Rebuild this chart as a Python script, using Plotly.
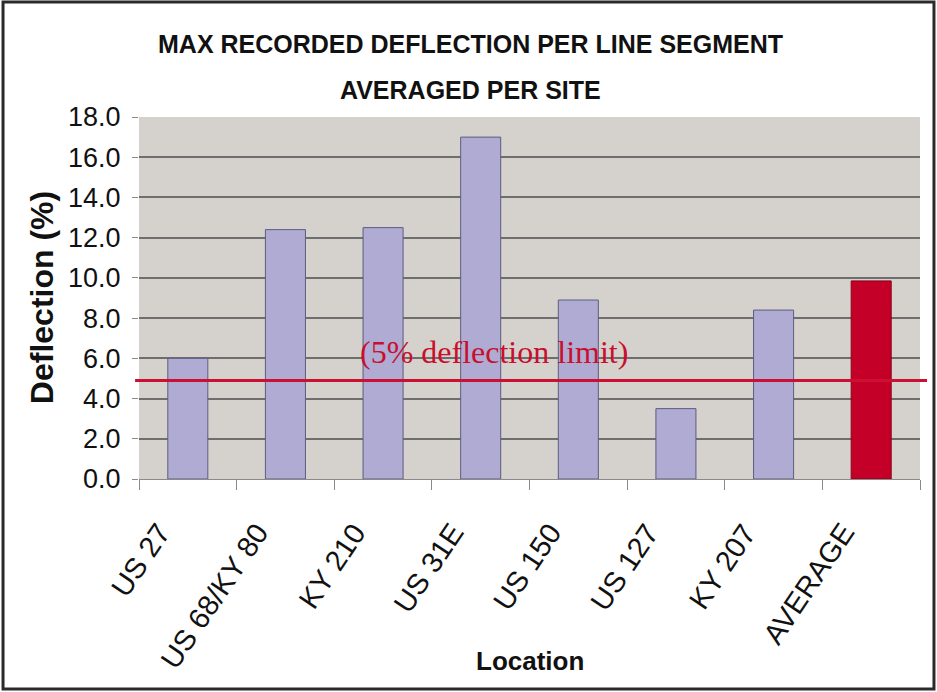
import plotly.graph_objects as go

categories = ["US 27", "US 68/KY 80", "KY 210", "US 31E", "US 150", "US 127", "KY 207", "AVERAGE"]
deflection = [6.0, 12.4, 12.5, 17.0, 8.9, 3.5, 8.4, 9.85]
limit_value = 4.9
limit_label = "(5% deflection limit)"
title_lines = ["MAX RECORDED DEFLECTION PER LINE SEGMENT", "AVERAGED PER SITE"]
y_ticks = [0, 2, 4, 6, 8, 10, 12, 14, 16, 18]

bar_colors = ["#afabd3"] * (len(categories) - 1) + ["#c40028"]
line_colors = ["#5e5c80"] * (len(categories) - 1) + ["#8a0016"]

SANS = "Liberation Sans, Arial, sans-serif"

fig = go.Figure()
fig.add_trace(go.Bar(
    x=categories, y=deflection,
    marker=dict(color=bar_colors, line=dict(color=line_colors, width=1)),
    width=0.41, showlegend=False, hoverinfo="x+y",
))

fig.update_layout(
    width=937, height=692,
    margin=dict(l=139, r=17, t=117, b=213, autoexpand=False),
    paper_bgcolor="white",
    plot_bgcolor="#d5d2cd",
    font=dict(family=SANS, color="#111111"),
    showlegend=False,
    xaxis=dict(
        type="category",
        automargin=False,
        showticklabels=False,
        ticks="outside", tickson="boundaries", ticklen=10, tickcolor="#8a8a8a", tickwidth=1,
        showgrid=False, showline=False, zeroline=False,
        range=[-0.5, len(categories) - 0.5],
    ),
    yaxis=dict(
        automargin=False,
        range=[0, 18],
        tickvals=y_ticks,
        ticktext=[f"{v:.1f}" for v in y_ticks],
        tickfont=dict(size=27, family=SANS, color="#111111"),
        ticks="outside", ticklen=6, tickcolor="#8a8a8a", tickwidth=1,
        ticklabelstandoff=6,
        showgrid=True, gridcolor="#6e6e6e", gridwidth=1.5,
        showline=False, zeroline=True, zerolinecolor="#8a8a8a", zerolinewidth=1,
    ),
)

# rotated category labels
for cat in categories:
    fig.add_annotation(xref="x", yref="paper", x=cat, y=-0.10, xshift=-8,
                       xanchor="right", yanchor="top", textangle=-56, showarrow=False,
                       text=cat, font=dict(size=29, family=SANS, color="#111111"))

# axis titles
fig.add_annotation(xref="paper", yref="paper", x=0.5, y=-0.503, xanchor="center", yanchor="middle",
                   text="<b>Location</b>", showarrow=False,
                   font=dict(size=26, family=SANS, color="#111111"))
fig.add_annotation(xref="paper", yref="paper", x=-0.124, y=0.5, xanchor="center", yanchor="middle",
                   text="<b>Deflection (%)</b>", textangle=-90, showarrow=False,
                   font=dict(size=32, family=SANS, color="#111111"))

# 5% limit line
fig.add_shape(type="line", xref="paper", yref="y", x0=-0.005, x1=1.009,
              y0=limit_value, y1=limit_value, line=dict(color="#cc1034", width=3), layer="above")
fig.add_annotation(xref="paper", yref="y", x=0.455, y=limit_value + 1.4, text=limit_label,
                   showarrow=False, font=dict(family="Liberation Serif, Times New Roman, serif", size=32, color="#c8102e"))

# Title
fig.add_annotation(xref="paper", yref="paper", x=0.424, y=1.2017, xanchor="center", yanchor="middle",
                   text=f"<b>{title_lines[0]}</b>", showarrow=False,
                   font=dict(size=25, family=SANS, color="#111111"))
fig.add_annotation(xref="paper", yref="paper", x=0.424, y=1.0746, xanchor="center", yanchor="middle",
                   text=f"<b>{title_lines[1]}</b>", showarrow=False,
                   font=dict(size=25, family=SANS, color="#111111"))

# Outer frame
fig.add_shape(type="rect", xref="paper", yref="paper", x0=-0.1741, x1=1.0179, y0=-0.5801, y1=1.3177,
              line=dict(color="#2a2a2a", width=3), fillcolor="rgba(0,0,0,0)", layer="above")

fig.write_html("out.html",
               config={"displayModeBar": False},
               post_script="document.body.style.margin='0';document.body.style.overflow='hidden';")
